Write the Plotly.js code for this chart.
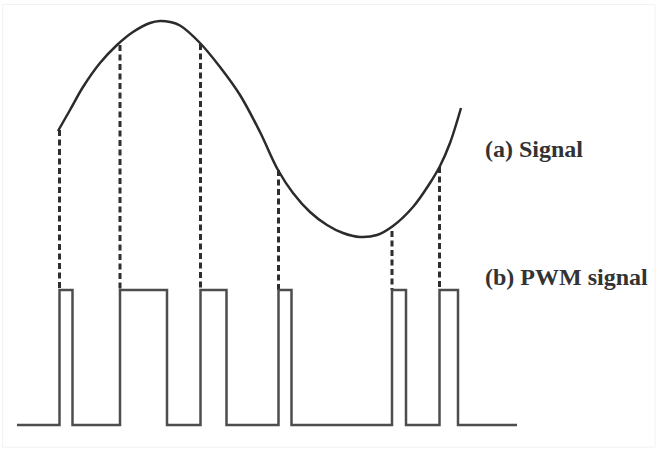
<!DOCTYPE html>
<html>
<head>
<meta charset="utf-8">
<script src="https://cdn.plot.ly/plotly-3.0.1.min.js"></script>
<style>
  html, body { margin: 0; padding: 0; background: #ffffff; }
  #chart { width: 657px; height: 449px; }
</style>
</head>
<body>
<div id="chart"></div>
<script>
// ---- Data read from the picture (time units, amplitude units; amplitude measured upward) ----
// (a) Analog signal samples
const signalTime = [58, 70, 83, 100, 117, 133, 150, 160, 170, 180, 200, 220, 240, 260, 278, 293, 310, 327, 343, 360, 377, 393, 413, 430, 440, 450, 461];
const signalAmp  = [318, 339, 362, 386, 404, 417, 426, 428, 427, 423.5, 406, 382, 354, 317, 279, 256, 237, 224, 216, 212, 214, 223, 242, 266, 283, 306, 341];

// (b) PWM signal: rising / falling edge times, levels and extent
const pwmRise = [59.5, 120, 200.5, 278.5, 392, 439.5];
const pwmFall = [72.5, 167, 226.5, 291.5, 406, 458];
const pwmLow  = 24;
const pwmHigh = 159;
const pwmStart = 17;
const pwmEnd   = 517;

// Signal value at each rising edge (where the dashed guide meets the curve)
const guideTop = [319, 404, 405, 279, 218, 282];

// Labels
const labels = ["(a) Signal", "(b) PWM signal"];

// ---- Build traces ----
const pwmX = [pwmStart], pwmY = [pwmLow];
for (let i = 0; i < pwmRise.length; i++) {
  pwmX.push(pwmRise[i], pwmRise[i], pwmFall[i], pwmFall[i]);
  pwmY.push(pwmLow, pwmHigh, pwmHigh, pwmLow);
}
pwmX.push(pwmEnd); pwmY.push(pwmLow);

const guideX = [], guideY = [];
for (let i = 0; i < pwmRise.length; i++) {
  guideX.push(pwmRise[i], pwmRise[i], null);
  guideY.push(guideTop[i], pwmHigh, null);
}

const traces = [
  {
    x: guideX, y: guideY, mode: "lines", type: "scatter",
    line: { color: "#2e2e2e", width: 3, dash: "6px,3.5px" },
    hoverinfo: "skip", showlegend: false
  },
  {
    x: signalTime, y: signalAmp, mode: "lines", type: "scatter",
    line: { color: "#2b2b2b", width: 2.5, shape: "spline", smoothing: 1 },
    showlegend: false
  },
  {
    x: pwmX, y: pwmY, mode: "lines", type: "scatter",
    line: { color: "#4d4d4d", width: 2.5 },
    showlegend: false
  }
];

const layout = {
  width: 657, height: 449,
  margin: { l: 0, r: 0, t: 0, b: 0 },
  paper_bgcolor: "#ffffff", plot_bgcolor: "#ffffff",
  xaxis: { range: [0, 657], visible: false, fixedrange: true },
  yaxis: { range: [0, 449], visible: false, fixedrange: true },
  showlegend: false,
  annotations: [
    { x: 483, y: 300, xref: "x", yref: "y", xanchor: "left", yanchor: "middle",
      text: labels[0], showarrow: false,
      font: { family: "Liberation Serif, Times New Roman, serif", size: 24, color: "#333333", weight: "bold" } },
    { x: 483, y: 172, xref: "x", yref: "y", xanchor: "left", yanchor: "middle",
      text: labels[1], showarrow: false,
      font: { family: "Liberation Serif, Times New Roman, serif", size: 24, color: "#333333", weight: "bold" } }
  ],
  shapes: [
    { type: "rect", xref: "paper", yref: "paper", x0: 0.004, x1: 0.997, y0: 0.004, y1: 0.99,
      line: { color: "#f2f2f2", width: 1 }, fillcolor: "rgba(0,0,0,0)" }
  ]
};

Plotly.newPlot("chart", traces, layout, { displayModeBar: false, staticPlot: true });
</script>
</body>
</html>
